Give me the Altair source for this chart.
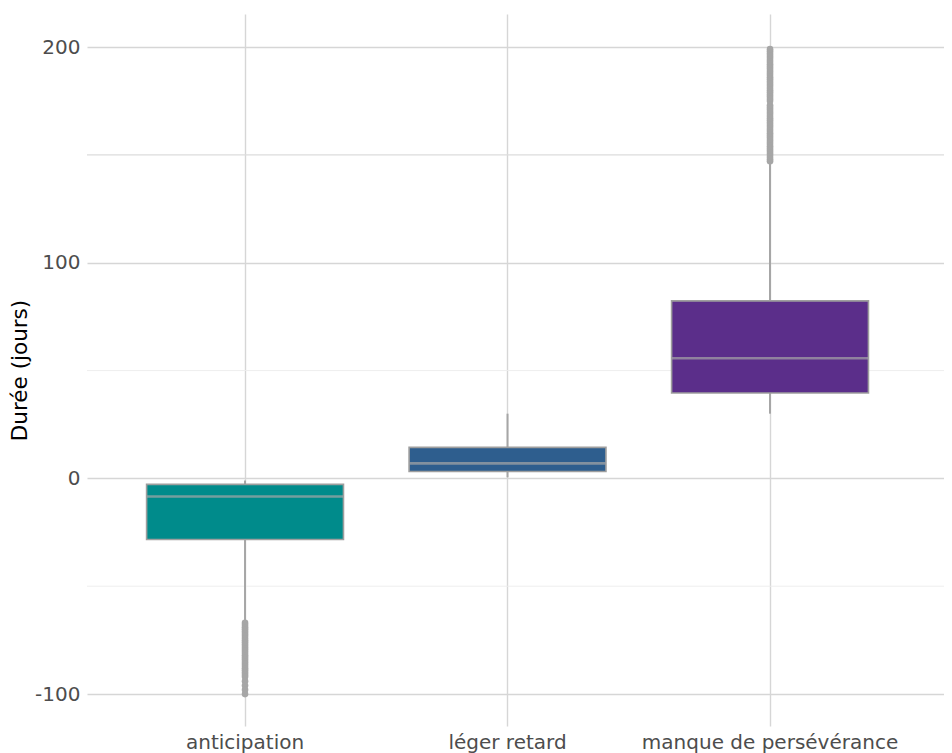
import altair as alt
import pandas as pd

# ---- data ----
categories = ["anticipation", "léger retard", "manque de persévérance"]
box_colors = ["#008B8B", "#2E5E8E", "#5B2E8A"]
whisker_low = [-66, 0.5, 30]
q1 = [-28.3, 3.2, 39.6]
median = [-8.4, 7.0, 55.7]
q3 = [-2.8, 14.4, 82.3]
whisker_high = [-1, 30, 146]

outliers_anticipation = [-67, -68, -69, -70, -71, -72, -73, -74, -75, -76, -77, -78, -79,
                         -80, -81, -82, -83, -84, -85, -86, -87, -88, -89, -90, -91, -92,
                         -94, -96, -98, -100]
outliers_manque = [147, 148, 149, 150, 151, 152, 153, 154, 155, 156, 157, 158, 159, 160,
                   161, 162, 163, 164, 165, 166, 167, 168, 169, 170, 171, 172, 173,
                   175, 176, 177, 178, 179, 180, 181, 182, 183, 184, 185, 186, 187, 188,
                   189, 190, 191, 192, 193, 194, 195, 196, 197, 198, 199]

y_ticks = [-100, 0, 100, 200]
y_minor_light = [-50, 50]
y_minor_dark = [150]

# ---- tables ----
stats = pd.DataFrame({
    "cat": categories, "lo": whisker_low, "q1": q1, "med": median,
    "q3": q3, "hi": whisker_high, "color": box_colors,
})
outl = pd.DataFrame({
    "cat": [categories[0]] * len(outliers_anticipation) + [categories[2]] * len(outliers_manque),
    "v": outliers_anticipation + outliers_manque,
})
minor_light = pd.DataFrame({"v": y_minor_light})
minor_dark = pd.DataFrame({"v": y_minor_dark})

FONT = "DejaVu Sans"
GREY = "#a6a6a6"

xscale = alt.Scale(domain=categories, paddingInner=0.25, paddingOuter=0.2574, align=0.441)
yscale = alt.Scale(domain=[-114.8, 215.3], nice=False, zero=False)

x_enc = alt.X("cat:N", scale=xscale, sort=categories,
              axis=alt.Axis(title=None, labelAngle=0, grid=True, ticks=False, domain=False,
                            labelFontSize=20, labelColor="#4d4d4d", labelFont=FONT,
                            labelPadding=6, labelLimit=0,
                            gridColor="#d6d6d6", gridWidth=1.4))
y_axis = alt.Axis(title="Durée (jours)", values=y_ticks, grid=True, ticks=False, domain=False,
                  labelFontSize=20, labelColor="#4d4d4d", labelFont=FONT, labelPadding=7,
                  labelExpr="datum.value + ''",
                  titleFont=FONT, titleFontSize=21.5, titleFontWeight="normal",
                  titleColor="#000000", titlePadding=3,
                  gridColor="#d6d6d6", gridWidth=1.4)

light_layer = alt.Chart(minor_light).mark_rule(color="#ececec", strokeWidth=0.9).encode(
    y=alt.Y("v:Q", scale=yscale, axis=y_axis)
)
dark_layer = alt.Chart(minor_dark).mark_rule(color="#dcdcdc", strokeWidth=1.4).encode(
    y=alt.Y("v:Q", scale=yscale, axis=y_axis)
)

whisk = alt.Chart(stats).mark_rule(color=GREY, strokeWidth=2).encode(
    x=x_enc,
    y=alt.Y("lo:Q", scale=yscale, axis=y_axis),
    y2="hi:Q",
)

box = alt.Chart(stats).mark_bar(stroke="#9e9e9e", strokeWidth=1.6).encode(
    x=x_enc,
    y=alt.Y("q1:Q", scale=yscale, axis=y_axis),
    y2="q3:Q",
    color=alt.Color("color:N", scale=None, legend=None),
)

med = alt.Chart(stats).mark_tick(color=GREY, thickness=2.7, size=196).encode(
    x=x_enc,
    y=alt.Y("med:Q", scale=yscale, axis=y_axis),
)

pts = alt.Chart(outl).mark_circle(color=GREY, opacity=1, size=44).encode(
    x=x_enc,
    y=alt.Y("v:Q", scale=yscale, axis=y_axis),
)

chart = alt.layer(light_layer, dark_layer, whisk, box, med, pts).properties(
    width=857, height=712,
    autosize=alt.AutoSizeParams(type="none"),
    padding={"left": 79, "top": 6, "right": 0, "bottom": 27},
).configure(font=FONT, background="white").configure_view(stroke="transparent", strokeWidth=0)

chart.save("out.html", embed_options={"renderer": "svg", "actions": False})
